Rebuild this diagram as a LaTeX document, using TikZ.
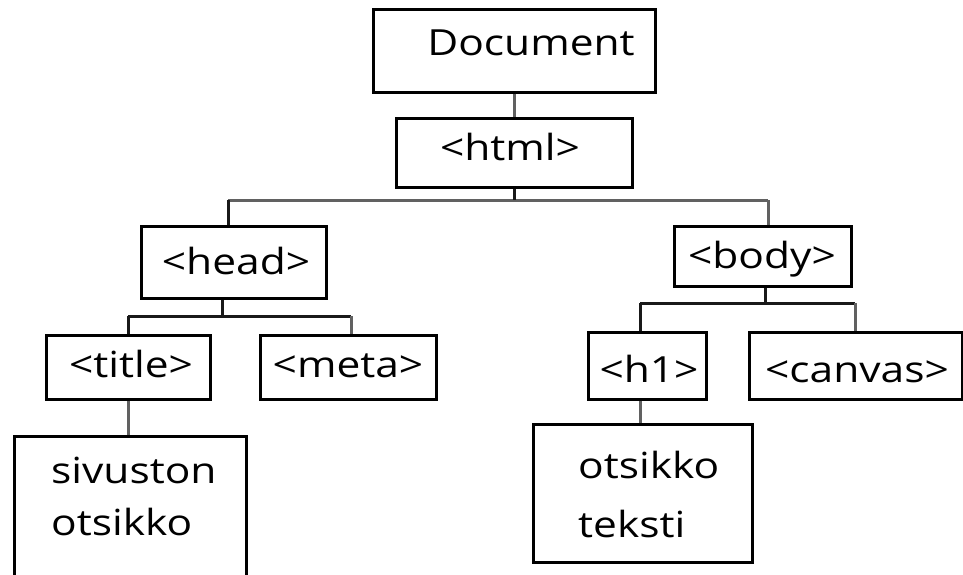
\documentclass[tikz,border=0pt]{standalone}
\usepackage{fontspec}
\setmainfont{Open Sans}[FakeStretch=1.18]
\begin{document}
\begin{tikzpicture}[x=1pt,y=1pt,
  box/.style={draw=black, line width=3pt, fill=white, inner sep=0pt},
  txt/.style={anchor=base, inner sep=0pt, font=\fontsize{36}{40}\selectfont},
  ltxt/.style={anchor=base west, inner sep=0pt, font=\fontsize{36}{40}\selectfont},
  conn/.style={draw=black!62, line width=3pt},
  connk/.style={draw=black!90, line width=3pt}]
\useasboundingbox (0,0) rectangle (963,-574);
\clip (0,0) rectangle (963,-574);
% boxes
\node[box, minimum width=282, minimum height=83] (doc) at (514,-50.5) {};
\node[box, minimum width=236, minimum height=69] (html) at (514,-152.5) {};
\node[box, minimum width=185, minimum height=72] (head) at (233.5,-262) {};
\node[box, minimum width=177, minimum height=60] (body) at (762.5,-256) {};
\node[box, minimum width=164, minimum height=64] (title) at (128,-367) {};
\node[box, minimum width=176, minimum height=64] (meta) at (348,-367) {};
\node[box, minimum width=118, minimum height=67] (h1) at (647,-365.5) {};
\node[box, minimum width=213, minimum height=67] (canvas) at (855.5,-365.5) {};
\node[box, minimum width=232, minimum height=180] (siv) at (130,-526) {};
\node[box, minimum width=219, minimum height=138] (ots) at (642.5,-493) {};
% texts
\node[txt] (tdoc) at (531,-55) {Document};
\node[txt] (thtml) at (510,-160) {<html>};
\node[txt] (thead) at (236,-274) {<head>};
\node[txt] (tbody) at (762,-268) {<body>};
\node[txt] (ttitle) at (131,-377) {<title>};
\node[txt] (tmeta) at (348,-377) {<meta>};
\node[txt] (th1) at (649,-382) {<h1>};
\node[txt] (tcanvas) at (857,-382) {<canvas>};
\node[ltxt] (tsiv1) at (51,-483) {sivuston};
\node[ltxt] (tsiv2) at (51,-535) {otsikko};
\node[ltxt] (tots1) at (578,-478) {otsikko};
\node[ltxt] (tots2) at (578,-537) {teksti};
% junction coordinates
\coordinate (hl) at (228,-200);
\coordinate (hr) at (768,-200);
\coordinate (hj) at (514,-200);
\coordinate (h2) at (222,-316);
\coordinate (h2l) at (128,-316);
\coordinate (h2r) at (351,-316);
\coordinate (b2) at (765,-303);
\coordinate (b2l) at (640,-303);
\coordinate (b2r) at (855,-303);
% connectors
\draw[conn] (doc) -- (html);
\draw[conn] (hl) -- (hr);
\draw[connk] (html) -- (hj);
\draw[connk] (hl) -- (hl |- head.north);
\draw[conn] (hr) -- (hr |- body.north);
\draw[connk] (head.south -| h2) -- (h2);
\draw[connk] (h2l) -- (h2r);
\draw[connk] (h2l) -- (h2l |- title.north);
\draw[conn] (h2r) -- (h2r |- meta.north);
\draw[conn] (title.south -| h2l) -- (h2l |- siv.north);
\draw[connk] (body.south -| b2) -- (b2);
\draw[connk] (b2l) -- (b2r);
\draw[connk] (b2l) -- (b2l |- h1.north);
\draw[conn] (b2r) -- (b2r |- canvas.north);
\draw[conn] (h1.south -| b2l) -- (b2l |- ots.north);
\end{tikzpicture}
\end{document}
